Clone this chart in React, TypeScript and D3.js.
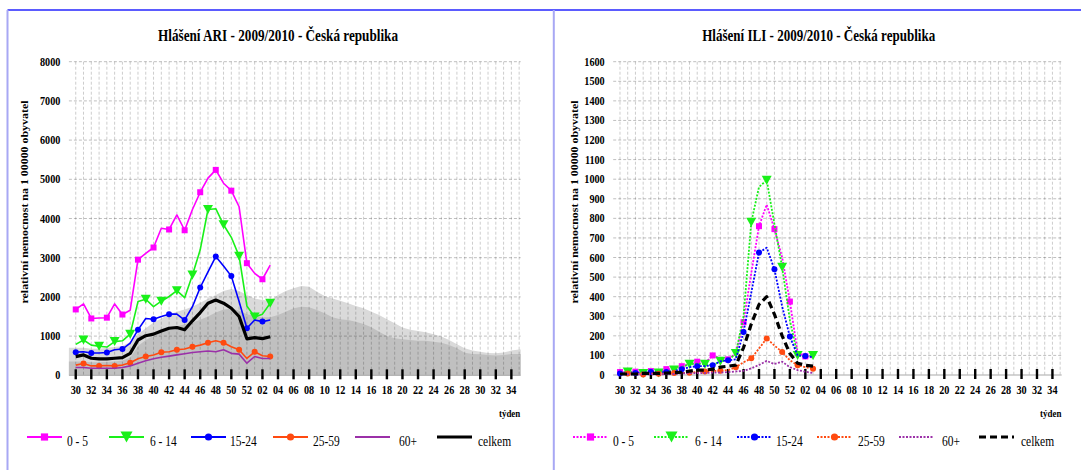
import React from "react";
import * as d3 from "d3";

// week categories, season 2009/2010
const weeks = [
  "30", "31", "32", "33", "34", "35", "36", "37", "38", "39", "40", "41", "42", "43", "44", "45",
  "46", "47", "48", "49", "50", "51", "52", "01", "02", "03", "04", "05", "06", "07", "08", "09",
  "10", "11", "12", "13", "14", "15", "16", "17", "18", "19", "20", "21", "22", "23", "24", "25",
  "26", "27", "28", "29", "30", "31", "32", "33", "34", "35",
];

// ARI - reported values (weeks 30..03)
const ari0_5 = [1680, 1820, 1450, 1460, 1470, 1820, 1550, 1660, 2950, 3110, 3260, 3750, 3720, 4090, 3700, 4230, 4670, 5030, 5240, 4900, 4710, 4300, 2860, 2600, 2450, 2810];
const ari6_14 = [790, 900, 770, 740, 720, 860, 880, 1050, 1880, 1940, 1750, 1890, 2010, 2160, 1980, 2560, 3200, 4230, 4250, 3840, 3520, 3040, 1770, 1490, 1560, 1840];
const ari15_24 = [590, 600, 570, 570, 580, 650, 670, 820, 1160, 1450, 1430, 1500, 1560, 1560, 1410, 1750, 2240, 2640, 3030, 2790, 2530, 1880, 1200, 1410, 1370, 1410];
const ari25_59 = [260, 300, 240, 240, 250, 240, 260, 320, 420, 480, 520, 590, 600, 650, 670, 730, 770, 830, 880, 830, 730, 650, 430, 600, 500, 480];
const ari60 = [200, 200, 180, 180, 180, 180, 200, 240, 310, 370, 420, 460, 490, 520, 550, 580, 600, 620, 600, 650, 560, 540, 310, 480, 430, 430];
const ariCelkem = [475, 520, 435, 420, 420, 435, 450, 560, 900, 1010, 1050, 1130, 1200, 1220, 1160, 1390, 1600, 1840, 1920, 1840, 1710, 1500, 930, 960, 935, 985];

// ARI - reference seasons (grey background, all weeks)
const ariRefHigh = [700, 700, 680, 680, 700, 720, 750, 850, 1050, 1200, 1350, 1450, 1550, 1620, 1680, 1750, 1850, 1950, 2050, 2150, 2200, 2150, 2050, 1960, 1920, 1900,
  2050, 2150, 2220, 2280, 2260, 2130, 2020, 1960, 1900, 1840, 1770, 1710, 1620, 1540, 1430, 1330, 1220, 1160, 1130, 1100, 1050, 990, 900, 790, 690, 630, 600, 570, 560, 580, 630, 660];
const ariRefLow = [350, 350, 330, 330, 340, 350, 380, 450, 750, 900, 1000, 1100, 1200, 1250, 1300, 1350, 1420, 1500, 1600, 1680, 1700, 1650, 1560, 1513, 1479, 1479,
  1538, 1623, 1708, 1751, 1734, 1666, 1581, 1479, 1428, 1411, 1368, 1309, 1224, 1113, 1003, 943, 918, 901, 884, 884, 858, 833, 773, 688, 577, 544, 536, 518, 502, 518, 544, 545];

// ILI - reported values (weeks 30..03)
const ili0_5 = [15, 18, 17, 12, 20, 15, 30, 30, 45, 55, 68, 60, 100, 85, 80, 110, 270, 520, 760, 870, 745, 600, 375, 115, 95, 90];
const ili6_14 = [10, 15, 12, 8, 15, 10, 20, 25, 40, 55, 58, 55, 50, 70, 75, 110, 300, 780, 960, 995, 770, 550, 280, 100, 95, 100];
const ili15_24 = [8, 10, 10, 12, 15, 12, 15, 20, 30, 40, 45, 45, 50, 70, 75, 80, 220, 420, 625, 650, 540, 350, 196, 100, 97, 92];
const ili25_59 = [5, 8, 6, 3, 8, 6, 8, 10, 10, 12, 15, 18, 20, 22, 25, 40, 65, 85, 135, 187, 150, 118, 75, 50, 40, 32];
const ili60 = [3, 3, 3, 3, 3, 3, 5, 5, 8, 10, 10, 10, 12, 12, 15, 18, 21, 34, 51, 72, 56, 68, 40, 25, 17, 10];
const iliCelkem = [5, 5, 5, 8, 8, 8, 10, 12, 15, 20, 25, 25, 30, 40, 45, 50, 140, 260, 360, 400, 310, 200, 110, 60, 50, 45];

const legendNames = ["0 - 5", "6 - 14", "15-24", "25-59", "60+", "celkem"];

const FONT = "'Liberation Serif', 'Times New Roman', serif";
const COLORS = ["#ff00ff", "#19f019", "#0000ff", "#ff4a10", "#9b30a8", "#000000"];
const MARKERS = ["square", "triangle", "circle", "circle", "none", "none"];
const PARITY = [0, 1, 0, 1, 0, 0];

function Marker({ kind, x, y, color, big }: { kind: string; x: number; y: number; color: string; big?: boolean }) {
  const k = big ? 1.2 : 1;
  if (kind === "square") return <rect x={x - 3 * k} y={y - 3 * k} width={6 * k} height={6 * k} fill={color} />;
  if (kind === "triangle") {
    const w = 5 * k, h = 9 * k;
    return <path d={`M${x - w},${y - h / 2}L${x + w},${y - h / 2}L${x},${y + h / 2}Z`} fill={color} />;
  }
  if (kind === "circle") return <circle cx={x} cy={y} r={3 * k} fill={color} />;
  return null;
}

function CText({ x, y, size, weight = "bold", anchor = "start", sx = 0.85, children }: any) {
  return (
    <text transform={`translate(${x},${y}) scale(${sx},1)`} fontFamily={FONT} fontSize={size}
      fontWeight={weight} textAnchor={anchor} fill="#000">{children}</text>
  );
}

function Chart({ cfg }: { cfg: any }) {
  const { left, right, top, bottom, yMax, yStep, dotted } = cfg;
  const x = d3.scaleLinear().domain([-0.88, 57.2]).range([left, right]);
  const y = d3.scaleLinear().domain([0, yMax]).range([bottom, top]);
  const yTicks = d3.range(0, yMax + 1, yStep);
  const idx = weeks.map((_, i) => i);

  const area = d3.area<[number, number]>().x((d) => x(d[0])).y0(y(0)).y1((d) => y(d[1]));
  const extend = (vals: number[]): [number, number][] =>
    [[-0.88, vals[0]] as [number, number]].concat(vals.map((v, i) => [i, v] as [number, number]), [[57.2, vals[vals.length - 1]]]);
  const line = d3.line<number>().x((_, i) => x(i)).y((d) => y(d));

  return (
    <g>
      {cfg.areas && (
        <g>
          <path d={area(extend(cfg.areas[0])) || ""} fill="#dadada" />
          <path d={area(extend(cfg.areas[1])) || ""} fill="#c0c0c0" />
        </g>
      )}
      {/* grid */}
      {yTicks.slice(1).map((t) => (
        <line key={"h" + t} x1={left} x2={right} y1={y(t)} y2={y(t)} stroke="rgba(0,0,0,0.25)" strokeDasharray="3,2" />
      ))}
      {idx.map((i) => (
        <line key={"v" + i} x1={x(i)} x2={x(i)} y1={y(yMax)} y2={y(0)} stroke="rgba(0,0,0,0.2)" strokeDasharray="3,2" />
      ))}
      <line x1={left} x2={right} y1={y(0)} y2={y(0)} stroke="#a8a8a8" strokeWidth={1} />
      {idx.filter((i) => i % 2 === 0).map((i) => (
        <rect key={"t" + i} x={x(i) - 1.2} y={y(0) - 6} width={2.4} height={10} fill="#000" />
      ))}
      {/* y tick labels */}
      {yTicks.map((t) => (
        <CText key={"yl" + t} x={left - 8.5} y={y(t) + 4} size={12} anchor="end">{t}</CText>
      ))}
      {/* x tick labels */}
      {idx.filter((i) => i % 2 === 0).map((i) => (
        <CText key={"xl" + i} x={x(i)} y={394} size={12} anchor="middle">{weeks[i]}</CText>
      ))}
      <CText x={cfg.tydenX} y={417} size={10.5} anchor="middle">týden</CText>
      {/* title */}
      <text x={cfg.titleX} y={41} fontFamily={FONT} fontSize={16} fontWeight="bold" textAnchor="middle"
        textLength={cfg.titleW} lengthAdjust="spacingAndGlyphs">{cfg.title}</text>
      <text transform={`translate(${cfg.yTitleX},202) rotate(-90)`} fontFamily={FONT} fontSize={10}
        fontWeight="bold" textAnchor="middle" textLength={203} lengthAdjust="spacingAndGlyphs">
        relativní nemocnost na 1 00000 obyvatel
      </text>
      {/* series */}
      {cfg.series.map((vals: number[], s: number) => {
        const isBlack = s === 5;
        const dash = dotted ? (isBlack ? "7,4" : "2,1.5") : undefined;
        return (
          <g key={"s" + s}>
            <path d={line(vals) || ""} fill="none" stroke={COLORS[s]} strokeWidth={isBlack ? 3.2 : dotted ? 1.8 : 1.6}
              strokeDasharray={dash} strokeLinejoin="round" />
            {MARKERS[s] !== "none" && vals.map((v, i) => (i % 2 === PARITY[s] ? (
              <Marker key={i} kind={MARKERS[s]} x={x(i)} y={y(v)} color={COLORS[s]} />
            ) : null))}
          </g>
        );
      })}
      {/* legend */}
      {legendNames.map((n, s) => {
        const lx = cfg.legendLine[s];
        const dash = dotted ? (s === 5 ? "7,4" : "2,1.5") : undefined;
        return (
          <g key={"lg" + s}>
            <line x1={lx} x2={lx + 35} y1={437} y2={437} stroke={COLORS[s]} strokeWidth={s === 5 ? 3.2 : 1.8} strokeDasharray={dash} />
            <Marker kind={MARKERS[s]} x={lx + 17.5} y={437} color={COLORS[s]} big />
            <CText x={cfg.legendText[s]} y={446} size={14} weight="normal" sx={0.82}>{n}</CText>
          </g>
        );
      })}
    </g>
  );
}

const ariCfg = {
  left: 68.9, right: 520.7, top: 61.7, bottom: 375.3, yMax: 8000, yStep: 1000, dotted: false,
  title: "Hlášení ARI - 2009/2010 - Česká republika", titleX: 278, titleW: 240, yTitleX: 28, tydenX: 509.6,
  areas: [ariRefHigh, ariRefLow],
  series: [ari0_5, ari6_14, ari15_24, ari25_59, ari60, ariCelkem],
  legendLine: [27, 109, 191, 273, 355, 437], legendText: [67, 150, 230, 313, 399, 478],
};

const iliCfg = {
  left: 613.2, right: 1061.7, top: 61.7, bottom: 375, yMax: 1600, yStep: 100, dotted: true,
  title: "Hlášení ILI - 2009/2010 - Česká republika", titleX: 818.7, titleW: 233, yTitleX: 577.5, tydenX: 1050.7,
  areas: null,
  series: [ili0_5, ili6_14, ili15_24, ili25_59, ili60, iliCelkem],
  legendLine: [573, 654, 737, 817, 899, 979], legendText: [613, 695, 776, 858, 942, 1021],
};

export default function App() {
  return (
    <svg width={1081} height={470} style={{ position: "absolute", left: 0, top: 0, background: "#fff" }}>
      <rect width={1081} height={470} fill="#fff" />
      <line x1={7.5} x2={1081} y1={10} y2={10} stroke="#2424ff" strokeWidth={1.6} />
      <line x1={7.5} x2={7.5} y1={10} y2={470} stroke="#a8a8f4" strokeWidth={2} />
      <line x1={553.8} x2={553.8} y1={10} y2={470} stroke="#a8a8f4" strokeWidth={2} />
      <Chart cfg={ariCfg} />
      <Chart cfg={iliCfg} />
    </svg>
  );
}
